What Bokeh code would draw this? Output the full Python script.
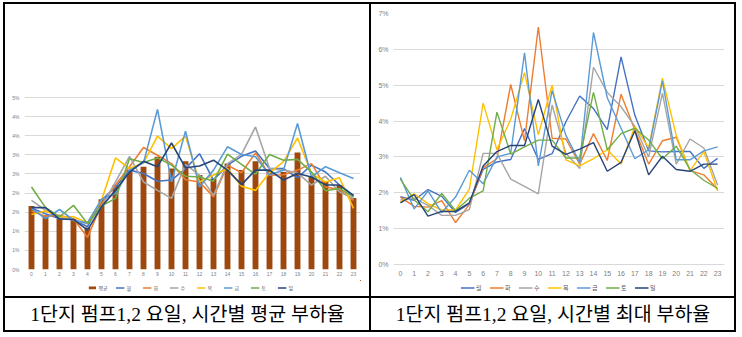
from bokeh.plotting import figure
from bokeh.layouts import row, column
from bokeh.models import (Legend, LegendItem, FixedTicker, CustomJSTickFormatter,
                          FactorRange, Range1d, Div, Spacer)
from bokeh.core.properties import value
from bokeh.embed import file_html
from bokeh.resources import INLINE

hours = [str(h) for h in range(24)]
days = ["월", "화", "수", "목", "금", "토", "일"]
day_colors = ["#4472C4", "#ED7D31", "#A5A5A5", "#FFC000", "#5B9BD5", "#70AD47", "#264478"]
bar_color = "#9E480E"

# ---- 평균 부하율 (%) ----
avg_mean = [1.66, 1.42, 1.33, 1.33, 1.10, 1.84, 2.21, 2.60, 2.69, 2.95, 2.64, 2.83,
            2.47, 2.38, 2.77, 2.60, 2.83, 2.60, 2.55, 3.06, 2.42, 2.31, 2.21, 1.87]
avg_mon = [1.60, 1.46, 1.33, 1.31, 1.12, 1.81, 2.16, 2.60, 2.51, 2.31, 2.34, 2.64,
           3.03, 2.34, 2.73, 2.96, 3.10, 2.64, 2.64, 2.40, 2.73, 2.55, 2.21, 1.94]
avg_tue = [1.53, 1.39, 1.42, 1.33, 0.84, 1.71, 2.21, 2.69, 3.19, 2.99, 2.77, 2.35,
           2.29, 1.90, 2.73, 2.53, 3.05, 2.47, 2.48, 2.60, 2.77, 2.16, 2.09, 1.81]
avg_wed = [1.81, 1.55, 1.38, 1.29, 1.20, 1.64, 2.29, 2.96, 2.29, 2.07, 1.86, 2.75,
           2.47, 1.94, 2.77, 3.01, 3.73, 2.64, 2.60, 2.53, 2.21, 2.44, 2.03, 1.86]
avg_thu = [1.44, 1.53, 1.38, 1.38, 1.22, 1.81, 2.92, 2.64, 2.79, 3.49, 3.16, 3.49,
           2.29, 2.47, 2.64, 2.18, 2.07, 2.53, 2.82, 3.44, 2.51, 2.29, 2.40, 1.60]
avg_fri = [1.60, 1.33, 1.57, 1.29, 1.22, 1.84, 1.99, 2.60, 2.79, 4.19, 2.29, 3.62,
           2.16, 2.60, 3.21, 3.01, 2.95, 2.47, 2.60, 3.82, 2.42, 2.69, 2.53, 2.38]
avg_sat = [2.16, 1.62, 1.38, 1.68, 1.20, 1.66, 1.86, 2.90, 2.80, 2.92, 2.73, 2.44,
           2.42, 2.31, 3.02, 2.75, 2.49, 3.01, 2.86, 2.88, 2.55, 2.06, 2.12, 1.90]
avg_sun = [1.62, 1.62, 1.32, 1.31, 1.03, 1.64, 2.07, 2.55, 2.83, 2.69, 3.31, 2.66,
           2.71, 2.86, 2.60, 2.22, 2.60, 2.60, 2.34, 2.51, 2.42, 2.21, 2.21, 1.93]

# ---- 최대 부하율 (%) ----
max_mon = [1.89, 1.79, 2.09, 1.90, 1.45, 1.70, 2.65, 2.86, 2.93, 3.79, 2.93, 3.09,
           3.98, 4.70, 4.35, 3.76, 5.79, 4.16, 3.17, 3.14, 3.15, 3.15, 2.68, 2.96]
max_tue = [1.88, 1.62, 1.60, 1.78, 1.17, 1.67, 2.70, 2.95, 5.02, 3.45, 6.62, 3.52,
           3.50, 2.80, 3.65, 2.90, 4.75, 3.75, 2.80, 3.45, 3.55, 2.62, 2.50, 2.10]
max_wed = [1.80, 1.85, 1.65, 1.37, 1.37, 1.53, 3.10, 3.10, 2.38, 2.18, 1.97, 4.45,
           3.10, 2.68, 5.50, 4.80, 4.40, 3.85, 3.00, 4.78, 2.80, 3.50, 3.25, 2.22]
max_thu = [1.75, 1.97, 1.70, 1.52, 1.52, 2.10, 4.50, 3.20, 4.05, 5.35, 3.62, 5.00,
           2.92, 2.75, 2.95, 3.20, 2.80, 3.85, 3.25, 5.20, 3.60, 2.62, 3.15, 2.05]
max_fri = [2.43, 1.55, 2.05, 1.45, 1.88, 2.63, 2.25, 3.00, 3.10, 5.90, 2.75, 4.85,
           3.60, 2.85, 6.47, 4.65, 3.80, 2.95, 3.20, 5.12, 2.92, 2.92, 3.17, 3.28]
max_sat = [2.38, 1.80, 1.47, 1.98, 1.50, 1.85, 2.05, 4.25, 3.08, 3.28, 3.47, 3.47,
           2.97, 2.97, 4.80, 3.20, 3.65, 3.80, 3.47, 2.95, 3.30, 2.65, 2.35, 2.12]
max_sun = [1.72, 1.95, 1.35, 1.48, 1.48, 1.72, 2.75, 3.15, 3.32, 3.32, 4.60, 3.30,
           3.07, 3.22, 3.40, 2.60, 2.85, 3.73, 2.50, 3.02, 2.65, 2.60, 2.80, 2.80]

avg_series = [avg_mon, avg_tue, avg_wed, avg_thu, avg_fri, avg_sat, avg_sun]
max_series = [max_mon, max_tue, max_wed, max_thu, max_fri, max_sat, max_sun]

left_ticks = [0, 0.5, 1, 1.5, 2, 2.5, 3, 3.5, 4, 4.5]
right_ticks = [0, 1, 2, 3, 4, 5, 6, 7]
captions = ["1단지 펌프1,2 요일, 시간별 평균 부하율", "1단지 펌프1,2 요일, 시간별 최대 부하율"]

FONT = "Noto Sans CJK KR"
CAP_FONT = "'Liberation Serif', 'Noto Sans CJK KR'"
GRID = "#D9D9D9"
TICK_TXT = "#7F7F7F"

CELL_H = 292
CHART_H = 276
LEG_H = 14
FRAME_H = 256
TOP_B = 9
BOT_B = CHART_H - FRAME_H - TOP_B


def base_fig(width, fw, ml, y_range, ticks, fs):
    p = figure(width=width, height=CHART_H,
               min_border_left=ml, min_border_right=width - fw - ml,
               min_border_top=TOP_B, min_border_bottom=BOT_B,
               x_range=FactorRange(*hours), y_range=y_range,
               output_backend="svg", toolbar_location=None)
    p.outline_line_color = None
    p.xgrid.grid_line_color = None
    p.ygrid.grid_line_color = GRID
    p.ygrid.grid_line_width = 1
    p.yaxis.ticker = FixedTicker(ticks=ticks)
    p.yaxis.formatter = CustomJSTickFormatter(code="return Math.round(tick) + '%';")
    for ax in (p.xaxis[0], p.yaxis[0]):
        ax.axis_line_color = None
        ax.major_tick_line_color = None
        ax.minor_tick_line_color = None
        ax.major_tick_out = 0
        ax.major_tick_in = 0
        ax.major_label_text_font_size = f"{fs}px"
        ax.major_label_text_color = TICK_TXT
        ax.major_label_text_font = "Liberation Sans"
    return p


def legend_fig(width, entries, gw, gh, lw, spacing, fs, lw_line):
    """Small figure holding only the chart's legend; its glyphs (same data as the
    chart) lie outside this figure's view, so only the legend is visible."""
    lf = figure(width=width, height=LEG_H, x_range=Range1d(-3, -2), y_range=Range1d(-3, -2),
                min_border=0, x_axis_type=None, y_axis_type=None,
                output_backend="svg", toolbar_location=None)
    lf.outline_line_color = None
    lf.grid.grid_line_color = None
    xs = list(range(len(hours)))
    items = []
    for label, kind, color, ys in entries:
        if kind == "bar":
            r = lf.vbar(x=xs, top=ys, width=0.42, fill_color=color, line_color=None)
        else:
            r = lf.line(x=xs, y=ys, line_color=color, line_width=lw_line)
        items.append(LegendItem(label=label, renderers=[r]))
    lf.add_layout(Legend(items=items, orientation="horizontal", location="center",
                         glyph_width=gw, glyph_height=gh, label_standoff=2, label_width=lw,
                         label_height=gh, spacing=spacing, padding=0, margin=0,
                         border_line_color=None, background_fill_alpha=0,
                         label_text_font_size=f"{fs}px", label_text_font=FONT,
                         label_text_color="#595959"), "center")
    return lf


# ---------------- left chart: 평균 부하율 ----------------
# 0..4.5 % occupies the lower 172 px of the 256 px frame
pl = base_fig(364, 336, 19, Range1d(0, 4.5 * FRAME_H / 172), left_ticks, 5)
pl.yaxis.major_label_standoff = 5
pl.xaxis.major_label_standoff = 2
pl.vbar(x=hours, top=avg_mean, width=0.42, fill_color=bar_color, line_color=None)
for c, ys in zip(day_colors, avg_series):
    pl.line(x=hours, y=ys, line_color=c, line_width=1.6)
leg_l = legend_fig(364, [("평균", "bar", bar_color, avg_mean)] +
                   [(d, "line", c, ys) for d, c, ys in zip(days, day_colors, avg_series)],
                   9, 4, 8, 8, 5, 1.6)

# ---------------- right chart: 최대 부하율 ----------------
# 0..7 % spans 251 px, with the 0 % line 5 px above the frame bottom
pr = base_fig(363, 331, 22, Range1d(-5 * 7 / 251, 7), right_ticks, 7)
pr.yaxis.major_label_standoff = 5
pr.xaxis.major_label_standoff = 1
for c, ys in zip(day_colors, max_series):
    pr.line(x=hours, y=ys, line_color=c, line_width=1.4)
leg_r = legend_fig(363, [(d, "line", c, ys) for d, c, ys in zip(days, day_colors, max_series)],
                   14, 6, 7, 6, 6, 1.4)


# ---------------- table frame and captions ----------------
def black(w, h):
    return Div(text="", width=w, height=h, margin=0,
               styles={"background-color": "black"})


def gap(w, h):
    return Spacer(width=w, height=h, margin=0)


def caption(text, w, h):
    p = figure(width=w, height=h, x_range=Range1d(0, 1), y_range=Range1d(0, 1),
               min_border=0, x_axis_type=None, y_axis_type=None,
               output_backend="svg", toolbar_location=None)
    p.outline_line_color = None
    p.grid.grid_line_color = None
    p.text(x=[0.5], y=[0.5], text=[text], text_align="center", text_baseline="middle",
           text_font=value(CAP_FONT), text_font_size="19.5px", text_color="black")
    return p


CAP_H = 32
cell_l = column(pl, leg_l, gap(364, CELL_H - CHART_H - LEG_H), spacing=0)
cell_r = column(pr, leg_r, gap(363, CELL_H - CHART_H - LEG_H), spacing=0)
top_line = row(gap(3, 2), black(733, 2), spacing=0)
chart_row = row(gap(3, CELL_H), black(2, CELL_H), cell_l, black(2, CELL_H), cell_r,
                black(2, CELL_H), spacing=0)
mid_line = row(gap(3, 2), black(733, 2), spacing=0)
cap_row = row(gap(3, CAP_H), black(2, CAP_H), caption(captions[0], 364, CAP_H),
              black(2, CAP_H), caption(captions[1], 363, CAP_H), black(2, CAP_H),
              spacing=0)
bot_line = row(gap(3, 2), black(733, 2), spacing=0)

layout = column(gap(742, 2), top_line, chart_row, mid_line, cap_row, bot_line, spacing=0)
open("out.html", "w").write(file_html(layout, INLINE))
